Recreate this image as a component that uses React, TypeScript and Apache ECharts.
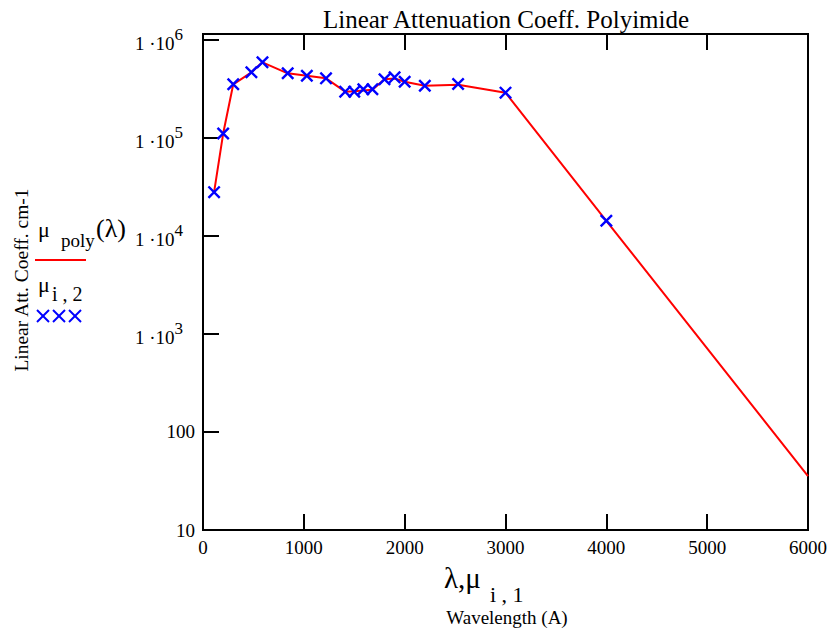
import React, { useEffect, useRef } from "react";
import * as echarts from "echarts";

// Measured points (mu_i,1 = wavelength in Angstrom, mu_i,2 = linear attenuation coeff, cm-1)
const wavelength = [110, 200, 300, 480, 590, 840, 1030, 1220, 1410, 1500, 1590, 1680, 1800, 1900, 2000, 2200, 2530, 3000, 4000];
const muMeasured = [2.8e4, 1.11e5, 3.53e5, 4.68e5, 5.92e5, 4.57e5, 4.32e5, 4.06e5, 2.97e5, 2.97e5, 3.14e5, 3.14e5, 3.97e5, 4.16e5, 3.75e5, 3.41e5, 3.55e5, 2.9e5, 1.43e4];

// Fitted curve mu_poly(lambda)
const curveWavelength = [110, 200, 300, 480, 590, 840, 1030, 1220, 1410, 1500, 1590, 1680, 1800, 1900, 2000, 2200, 2530, 3000, 4000, 6000];
const curveMu = [2.8e4, 1.11e5, 3.53e5, 4.68e5, 5.92e5, 4.57e5, 4.32e5, 4.06e5, 2.97e5, 3.0e5, 3.05e5, 3.1e5, 3.97e5, 4.05e5, 3.75e5, 3.41e5, 3.5e5, 2.9e5, 1.43e4, 35.5];

const xMin = 0;
const xMax = 6000;
const xInterval = 1000;
const yMin = 10;
const yMax = 1.151e6;

const FONT = '"Liberation Serif", "Times New Roman", serif';

export default function App() {
  const ref = useRef<HTMLDivElement>(null);
  useEffect(() => {
    const chart = echarts.init(ref.current!, null, { renderer: "svg" });
    const cross = "path://M0,1.3 L1.3,0 L10,8.7 L8.7,10 Z M8.7,0 L10,1.3 L1.3,10 L0,8.7 Z";
    const legendCrosses: any[] = [];
    [43, 59, 75].forEach((cx) => {
      legendCrosses.push({ type: "line", shape: { x1: cx - 6, y1: 310, x2: cx + 6, y2: 322 }, style: { stroke: "#0000ff", lineWidth: 2 } });
      legendCrosses.push({ type: "line", shape: { x1: cx + 6, y1: 310, x2: cx - 6, y2: 322 }, style: { stroke: "#0000ff", lineWidth: 2 } });
    });
    chart.setOption({
      animation: false,
      backgroundColor: "#fff",
      grid: { left: 203, right: 28, top: 34, bottom: 101, show: true, borderColor: "#000", borderWidth: 2, backgroundColor: "transparent" },
      xAxis: [
        {
          type: "value", min: xMin, max: xMax, interval: xInterval,
          axisLine: { show: false },
          axisTick: { show: true, inside: true, length: 16, lineStyle: { color: "#000", width: 2 } },
          splitLine: { show: false },
          axisLabel: { color: "#000", fontSize: 19, fontFamily: FONT, margin: 8, formatter: (v: number) => String(v) },
        },
        {
          type: "value", position: "top", min: xMin, max: xMax, interval: xInterval,
          axisLine: { show: false },
          axisTick: { show: true, inside: true, length: 16, lineStyle: { color: "#000", width: 2 } },
          splitLine: { show: false },
          axisLabel: { show: false },
        },
      ],
      yAxis: {
        type: "log", min: yMin, max: yMax, logBase: 10,
        axisLine: { show: false },
        axisTick: { show: true, inside: true, length: 16, lineStyle: { color: "#000", width: 2 } },
        splitLine: { show: false },
        minorTick: { show: false },
        axisLabel: {
          color: "#000", fontSize: 19, fontFamily: FONT, margin: 8,
          formatter: (v: number) => {
            const l = Math.log10(v);
            const n = Math.round(l);
            if (Math.abs(l - n) > 1e-6) return "";
            if (n <= 2) return String(Math.pow(10, n));
            return `{b|1 ·10}{s|${n}}`;
          },
          rich: {
            b: { fontSize: 19, fontFamily: FONT, color: "#000", verticalAlign: "bottom" },
            s: { fontSize: 17, fontFamily: FONT, color: "#000", verticalAlign: "top", padding: [0, 12, 10, 0] },
          },
        },
      },
      series: [
        {
          type: "line", name: "mu_poly", data: curveWavelength.map((x, i) => [x, curveMu[i]]),
          showSymbol: false, smooth: false, lineStyle: { color: "#ff0000", width: 2 }, itemStyle: { color: "#ff0000" },
          clip: true, z: 2,
        },
        {
          type: "scatter", name: "mu_i2", data: wavelength.map((x, i) => [x, muMeasured[i]]),
          symbol: cross, symbolSize: 13, itemStyle: { color: "#0000ff", opacity: 1 }, z: 3,
        },
      ],
      graphic: [
        { type: "text", x: 506, y: 19, style: { text: "Linear Attenuation Coeff. Polyimide", font: `25px ${FONT}`, fill: "#000", textAlign: "center", textVerticalAlign: "middle" } },
        { type: "text", x: 21, y: 280, rotation: Math.PI / 2, style: { text: "Linear Att. Coeff. cm-1", font: `19.5px ${FONT}`, fill: "#000", textAlign: "center", textVerticalAlign: "middle" } },
        { type: "text", x: 38, y: 229, style: { text: "μ", font: `22px ${FONT}`, fill: "#000", textAlign: "left", textVerticalAlign: "middle" } },
        { type: "text", x: 61, y: 240, style: { text: "poly", font: `19px ${FONT}`, fill: "#000", textAlign: "left", textVerticalAlign: "middle" } },
        { type: "text", x: 96, y: 228, style: { text: "(λ)", font: `26px ${FONT}`, fill: "#000", textAlign: "left", textVerticalAlign: "middle" } },
        { type: "line", shape: { x1: 35, y1: 260, x2: 86, y2: 260 }, style: { stroke: "#ff0000", lineWidth: 2 } },
        { type: "text", x: 38, y: 284, style: { text: "μ", font: `22px ${FONT}`, fill: "#000", textAlign: "left", textVerticalAlign: "middle" } },
        { type: "text", x: 52, y: 294, style: { text: "i , 2", font: `20px ${FONT}`, fill: "#000", textAlign: "left", textVerticalAlign: "middle" } },
        ...legendCrosses,
        { type: "text", x: 444, y: 578, style: { text: "λ,μ", font: `29px ${FONT}`, fill: "#000", textAlign: "left", textVerticalAlign: "middle" } },
        { type: "text", x: 490, y: 594, style: { text: "i , 1", font: `22px ${FONT}`, fill: "#000", textAlign: "left", textVerticalAlign: "middle" } },
        { type: "text", x: 507, y: 617, style: { text: "Wavelength (A)", font: `19px ${FONT}`, fill: "#000", textAlign: "center", textVerticalAlign: "middle" } },
      ],
    });
    return () => chart.dispose();
  }, []);
  return <div ref={ref} style={{ position: "fixed", left: 0, top: 0, width: 836, height: 631 }} />;
}
